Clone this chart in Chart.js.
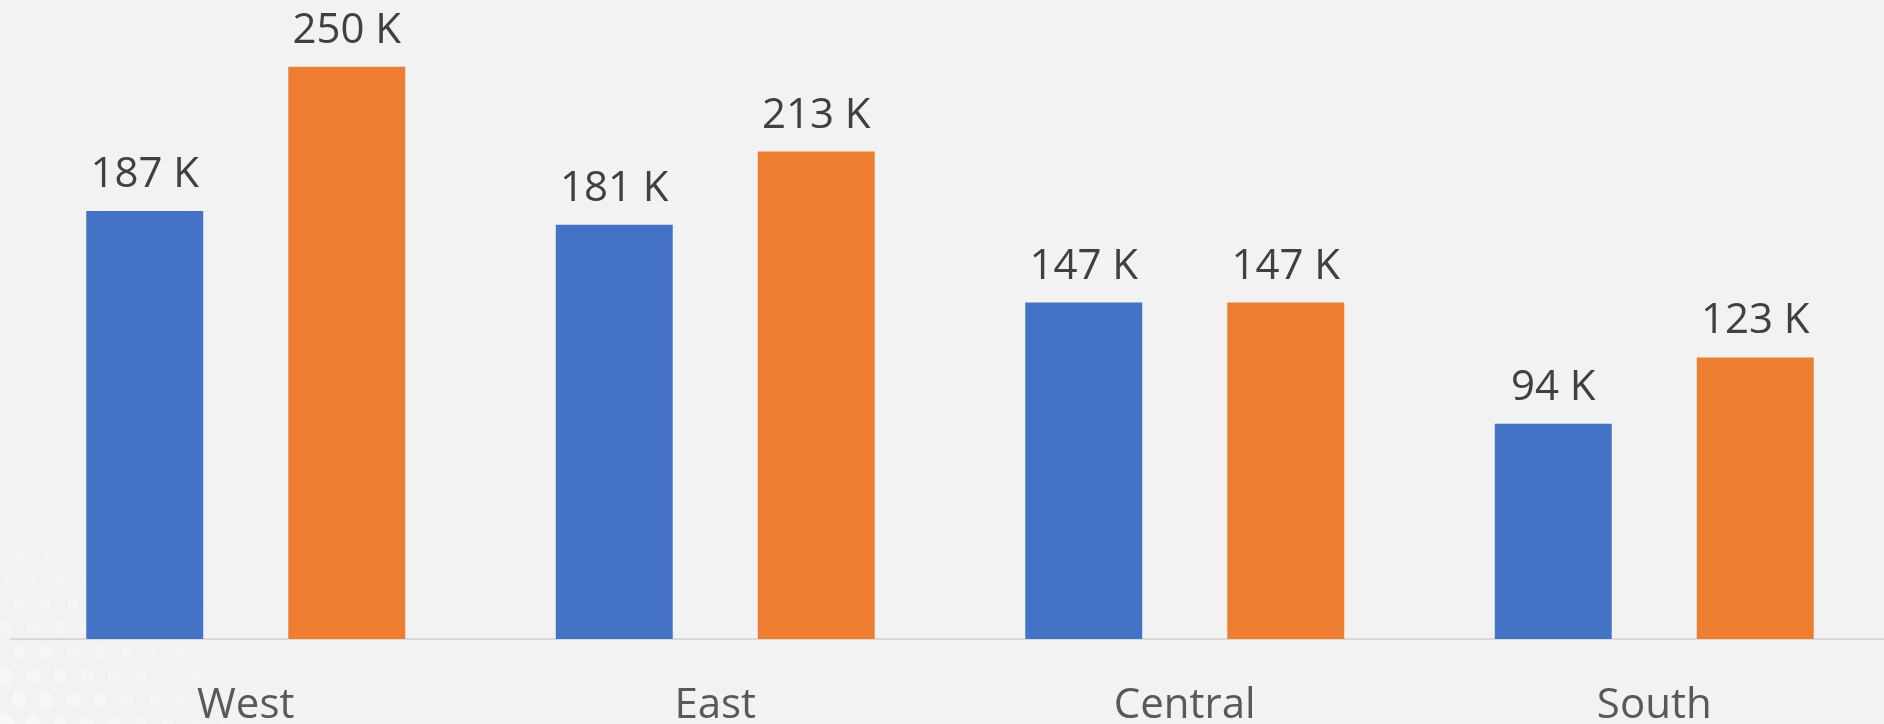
<!DOCTYPE html>
<html>
<head>
<meta charset="utf-8">
<script src="https://cdn.jsdelivr.net/npm/chart.js@4.4.1/dist/chart.umd.min.js"></script>
<style>
  html, body { margin: 0; padding: 0; background: #f2f2f2; overflow: hidden; }
  #wrap { position: relative; width: 1890px; height: 724px; }
</style>
</head>
<body>
<div id="wrap"><canvas id="RegionChart"></canvas></div>
<script>
const regions = ["West", "East", "Central", "South"];
const seriesA = [187, 181, 147, 94];   // thousands
const seriesB = [250, 213, 147, 123];  // thousands

// faint dotted texture in the lower left corner
const dotsBackground = {
  id: "dotsBackground",
  beforeDraw(chart) {
    const ctx = chart.ctx;
    ctx.save();
    ctx.fillStyle = "#f2f2f2";
    ctx.fillRect(0, 0, chart.width, chart.height);
    for (let row = 0; row < 14; row++) {
      for (let col = 0; col < 16; col++) {
        const x = 6 + col * 27 + (row % 2) * 13;
        const y = 724 - row * 24;
        const d = Math.hypot(x, (724 - y) * 1.3);
        if (d > 330) continue;
        const f = 1 - d / 330;
        ctx.fillStyle = "rgba(255,255,255," + (0.45 * f).toFixed(3) + ")";
        ctx.beginPath();
        ctx.ellipse(x, y, 3 + 5 * f, 4 + 6 * f, -0.3, 0, Math.PI * 2);
        ctx.fill();
      }
    }
    ctx.restore();
  },
};

// value labels above each bar
const valueLabels = {
  id: "valueLabels",
  afterDatasetsDraw(chart) {
    const ctx = chart.ctx;
    ctx.save();
    ctx.font = "42px 'Open Sans'";
    ctx.fillStyle = "#404040";
    ctx.textAlign = "center";
    ctx.textBaseline = "alphabetic";
    chart.data.datasets.forEach((ds, i) => {
      chart.getDatasetMeta(i).data.forEach((bar, j) => {
        ctx.fillText(ds.data[j] + " K", bar.x, bar.y - 24);
      });
    });
    ctx.restore();
  },
};

new Chart(document.getElementById("RegionChart"), {
  type: "bar",
  data: {
    labels: regions,
    datasets: [
      {
        label: "Series A",
        data: seriesA,
        backgroundColor: "#4472c4",
        categoryPercentage: 0.8605,
        barPercentage: 0.579,
      },
      {
        label: "Series B",
        data: seriesB,
        backgroundColor: "#ed7d31",
        categoryPercentage: 0.8605,
        barPercentage: 0.579,
      },
    ],
  },
  options: {
    responsive: true,
    maintainAspectRatio: false,
    animation: false,
    layout: {
      padding: { left: 11, right: 1, top: 0, bottom: 0 },
    },
    plugins: {
      legend: { display: false },
      tooltip: { enabled: false },
    },
    scales: {
      x: {
        grid: { display: false, drawTicks: false },
        border: { display: true, color: "#d9d9d9", width: 2 },
        ticks: {
          color: "#595959",
          font: { family: "'Open Sans'", size: 42 },
          padding: 42,
          maxRotation: 0,
        },
        afterFit(scale) {
          scale.height = 85;
        },
      },
      y: {
        display: false,
        min: 0,
        max: 279.2,
      },
    },
  },
  plugins: [dotsBackground, valueLabels],
});
</script>
</body>
</html>
